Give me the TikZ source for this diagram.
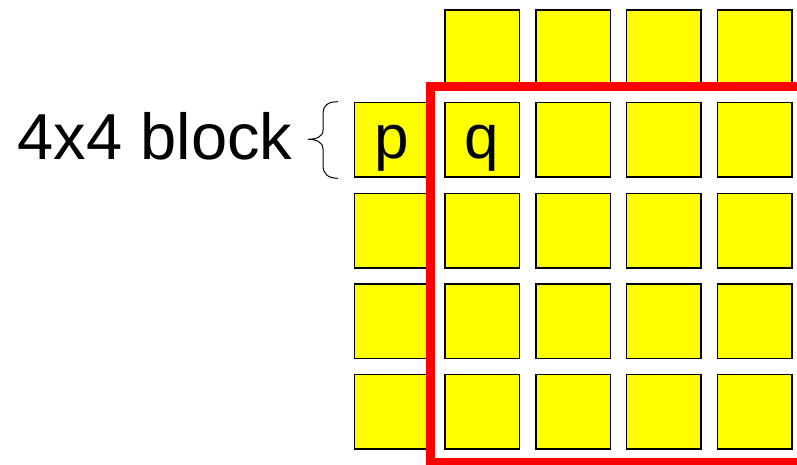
\documentclass[tikz,border=0pt]{standalone}
\usepackage{fontspec}
\setmainfont{Liberation Sans}
\definecolor{yel}{RGB}{255,255,0}
\definecolor{rd}{RGB}{255,0,0}
\begin{document}
\begin{tikzpicture}[x=1pt,y=-1pt,
  cell/.style={draw=black,line width=1.5pt,fill=yel,minimum size=74.5pt,inner sep=0pt,outer sep=0pt},
  letter/.style={inner sep=0pt,anchor=base,font=\fontsize{62}{62}\selectfont},
  lbl/.style={inner sep=0pt,anchor=base west,font=\fontsize{65}{65}\selectfont},
  frame/.style={draw=rd,line width=8.5pt}]
\clip (0,0) rectangle (797,464);
\fill[white] (0,0) rectangle (797,464);
% top row
\foreach \c/\x in {2/482,3/573,4/663.8,5/754.5}{
  \node[cell] (s1-\c) at (\x,47) {};
}
% rows 2-5
\foreach \r/\y in {2/139.7,3/230.5,4/321,5/411.5}{
  \foreach \c/\x in {1/391.5,2/482,3/573,4/663.8,5/754.5}{
    \node[cell] (s\r-\c) at (\x,\y) {};
  }
}
\node[letter] (p) at (391.5,158.3) {p};
\node[letter] (q) at (482,158.3) {q};
\node[lbl] (label) at (17.5,159) {4x4 block};
\draw[line width=1pt] (338,101.7) .. controls (328,101.7) and (323,105) .. (323,115) -- (323,130)
  .. controls (323,137) and (316,139.3) .. (308,139.3)
  .. controls (316,139.3) and (323,142) .. (323,149) -- (323,165)
  .. controls (323,174) and (328,178.3) .. (338,178.3);
\draw[frame] (430.3,86.7) rectangle (840,462.3);
\end{tikzpicture}
\end{document}
